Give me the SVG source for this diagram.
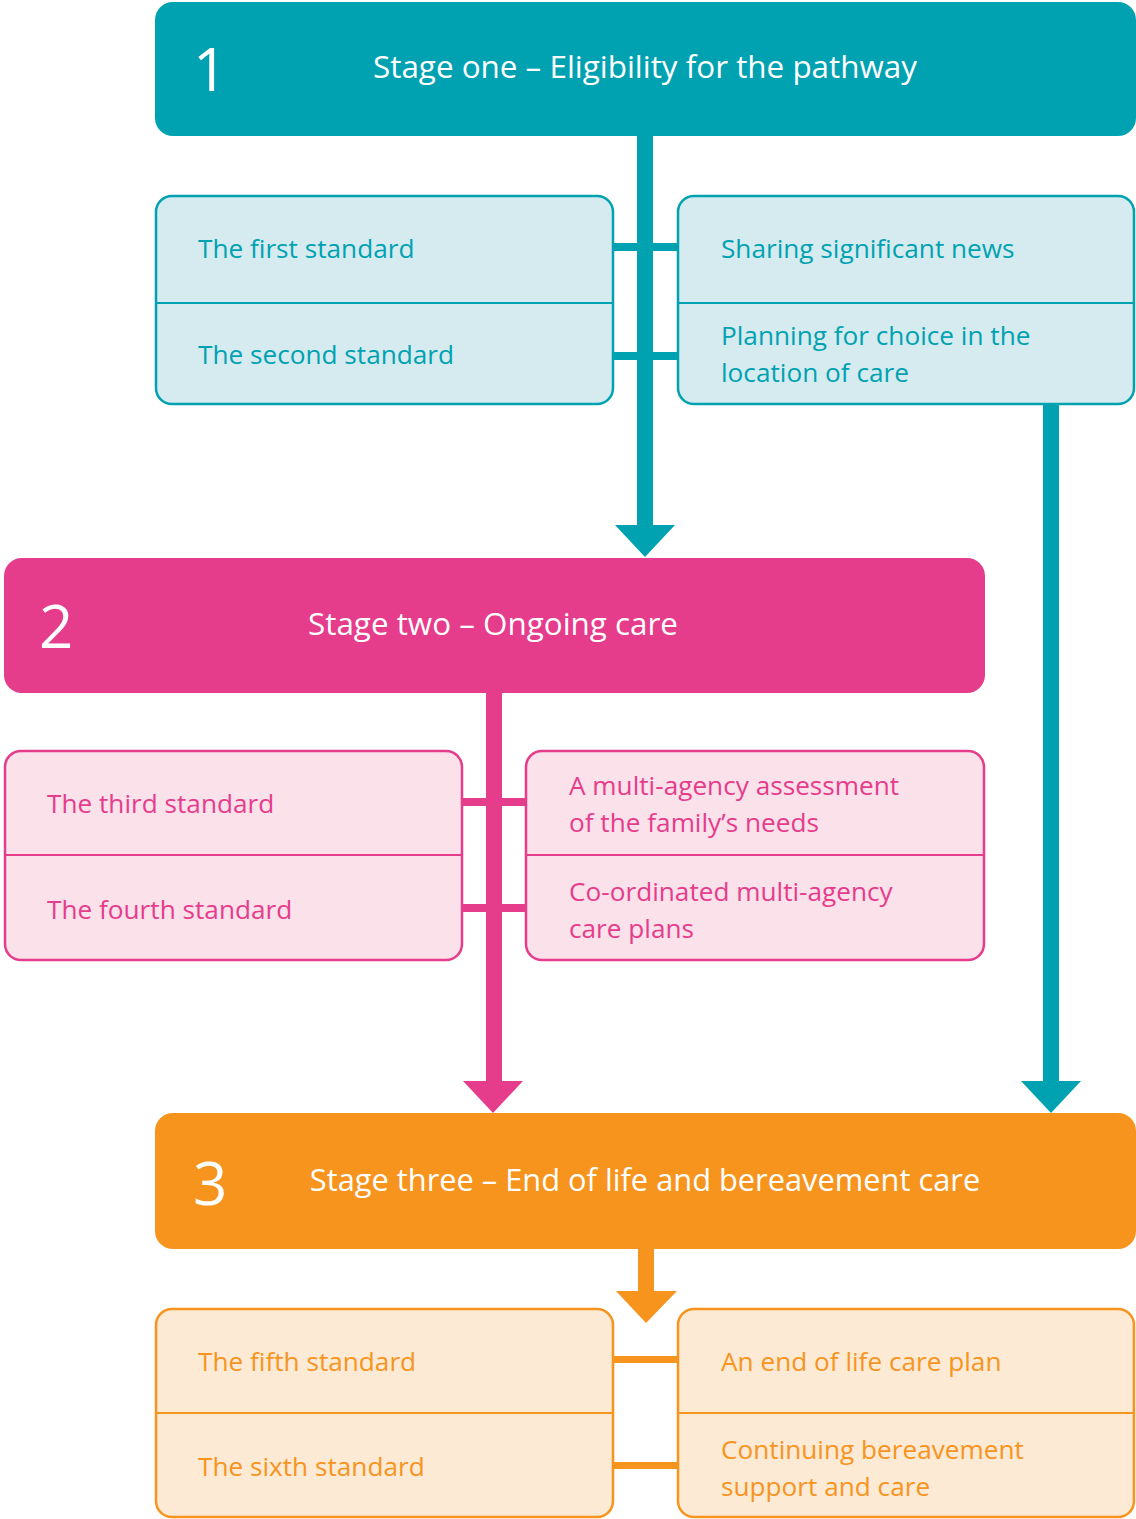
<svg xmlns="http://www.w3.org/2000/svg" width="1136" height="1519" viewBox="0 0 1136 1519">
<style>
text{font-family:"Open Sans","Noto Sans","Liberation Sans",sans-serif}
.stage{font-size:31.4px;fill:#fff}
.num{font-size:60px;fill:#fff}
.lbl{font-size:26.2px}
.t{fill:#00A2B2}.p{fill:#E63C8C}.o{fill:#F7941E}
.tb{fill:#D5EBEF;stroke:#00A2B2;stroke-width:2.5}
.pb{fill:#FBE1EA;stroke:#E63C8C;stroke-width:2.5}
.ob{fill:#FDEAD5;stroke:#F7941E;stroke-width:2.5}
</style>
<g id="connectors">
<rect x="637" y="130" width="16" height="396" fill="#00A2B2"/>
<polygon points="615,525 675,525 645,557" fill="#00A2B2"/>
<rect x="613" y="243" width="65" height="8" fill="#00A2B2"/>
<rect x="613" y="352" width="65" height="8" fill="#00A2B2"/>
<rect x="1043" y="404" width="16" height="678" fill="#00A2B2"/>
<polygon points="1021,1081 1081,1081 1051,1113" fill="#00A2B2"/>
<rect x="486" y="688" width="16" height="394" fill="#E63C8C"/>
<polygon points="463,1081 523,1081 493,1113" fill="#E63C8C"/>
<rect x="462" y="798" width="64" height="8" fill="#E63C8C"/>
<rect x="462" y="904" width="64" height="8" fill="#E63C8C"/>
<rect x="638" y="1245" width="16" height="47" fill="#F7941E"/>
<polygon points="616,1291 677,1291 646,1323" fill="#F7941E"/>
<rect x="613" y="1356" width="65" height="7" fill="#F7941E"/>
<rect x="613" y="1462" width="65" height="7" fill="#F7941E"/>
</g>
<g id="stage1">
<rect x="155" y="2" width="981" height="134" rx="18" fill="#00A2B2"/>
<text class="num" x="193" y="91">1</text>
<text class="stage" x="645" y="78" text-anchor="middle">Stage one – Eligibility for the pathway</text>
</g>
<g id="std1-2">
<rect class="tb" x="156" y="196" width="457" height="208" rx="16"/>
<line x1="156" y1="303" x2="613" y2="303" stroke="#00A2B2" stroke-width="2"/>
<text class="lbl t" x="198" y="258">The first standard</text>
<text class="lbl t" x="198" y="364">The second standard</text>
</g>
<g id="std1-2-topics">
<rect class="tb" x="678" y="196" width="456" height="208" rx="16"/>
<line x1="678" y1="303" x2="1134" y2="303" stroke="#00A2B2" stroke-width="2"/>
<text class="lbl t" x="721" y="258">Sharing significant news</text>
<text class="lbl t" x="721" y="345">Planning for choice in the</text>
<text class="lbl t" x="721" y="382">location of care</text>
</g>
<g id="stage2">
<rect x="4" y="558" width="981" height="135" rx="18" fill="#E63C8C"/>
<text class="num" x="39" y="648">2</text>
<text class="stage" x="493" y="635" text-anchor="middle">Stage two – Ongoing care</text>
</g>
<g id="std3-4">
<rect class="pb" x="5" y="751" width="457" height="209" rx="16"/>
<line x1="5" y1="855" x2="462" y2="855" stroke="#E63C8C" stroke-width="2"/>
<text class="lbl p" x="47" y="813">The third standard</text>
<text class="lbl p" x="47" y="919">The fourth standard</text>
</g>
<g id="std3-4-topics">
<rect class="pb" x="526" y="751" width="458" height="209" rx="16"/>
<line x1="526" y1="855" x2="984" y2="855" stroke="#E63C8C" stroke-width="2"/>
<text class="lbl p" x="569" y="795">A multi-agency assessment</text>
<text class="lbl p" x="569" y="832">of the family’s needs</text>
<text class="lbl p" x="569" y="901">Co-ordinated multi-agency</text>
<text class="lbl p" x="569" y="938">care plans</text>
</g>
<g id="stage3">
<rect x="155" y="1113" width="981" height="136" rx="18" fill="#F7941E"/>
<text class="num" x="193" y="1205">3</text>
<text class="stage" x="645" y="1191" text-anchor="middle" style="font-size:30.8px">Stage three – End of life and bereavement care</text>
</g>
<g id="std5-6">
<rect class="ob" x="156" y="1309" width="457" height="208" rx="16"/>
<line x1="156" y1="1413" x2="613" y2="1413" stroke="#F7941E" stroke-width="2"/>
<text class="lbl o" x="198" y="1371">The fifth standard</text>
<text class="lbl o" x="198" y="1476">The sixth standard</text>
</g>
<g id="std5-6-topics">
<rect class="ob" x="678" y="1309" width="456" height="208" rx="16"/>
<line x1="678" y1="1413" x2="1134" y2="1413" stroke="#F7941E" stroke-width="2"/>
<text class="lbl o" x="721" y="1371">An end of life care plan</text>
<text class="lbl o" x="721" y="1459">Continuing bereavement</text>
<text class="lbl o" x="721" y="1496">support and care</text>
</g>
</svg>
